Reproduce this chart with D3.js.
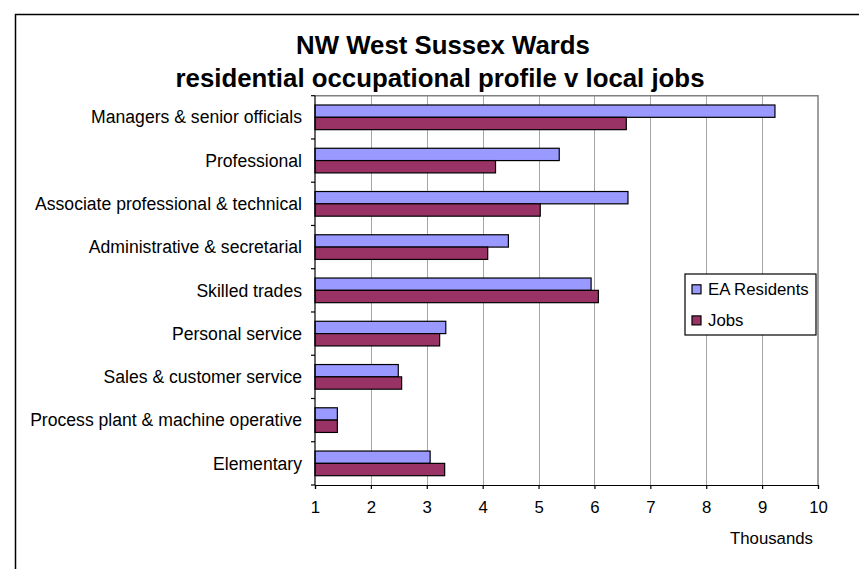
<!DOCTYPE html>
<html>
<head>
<meta charset="utf-8">
<script src="https://cdn.jsdelivr.net/npm/d3@7"></script>
<style>
  html, body { margin: 0; padding: 0; background: #fff; }
  svg { display: block; font-family: Arial, "Liberation Sans", sans-serif; }
</style>
</head>
<body>
<svg id="chart" width="859" height="569"></svg>
<script>
const titleLines = ["NW West Sussex Wards", "residential occupational profile v local jobs"];
const categories = [
  "Managers & senior officials",
  "Professional",
  "Associate professional & technical",
  "Administrative & secretarial",
  "Skilled trades",
  "Personal service",
  "Sales & customer service",
  "Process plant & machine operative",
  "Elementary"
];
const seriesNames = ["EA Residents", "Jobs"];
const eaResidents = [9.23, 5.37, 6.60, 4.46, 5.94, 3.34, 2.49, 1.40, 3.06];
const jobs        = [6.57, 4.23, 5.03, 4.09, 6.07, 3.23, 2.55, 1.40, 3.32];
const xTicks = [1, 2, 3, 4, 5, 6, 7, 8, 9, 10];
const xUnitLabel = "Thousands";
const colors = ["#9999FF", "#993366"];

const svg = d3.select("#chart");
svg.append("rect").attr("width", 859).attr("height", 569).attr("fill", "#fff");

// outer chart frame (extends beyond the picture on right and bottom)
svg.append("path")
  .attr("d", "M15.5,620 L15.5,14.5 L900,14.5")
  .attr("fill", "none").attr("stroke", "#000").attr("stroke-width", 1.5);

const plot = { left: 315, right: 818, top: 95.7, bottom: 485 };

const x = d3.scaleLinear().domain([1, 10]).range([plot.left, plot.right]);
const y = d3.scaleBand().domain(categories).range([plot.top, plot.bottom])
  .paddingInner(0.43).paddingOuter(0.215);
const ySub = d3.scaleBand().domain(seriesNames).range([0, y.bandwidth()]);

// gridlines
svg.append("g").selectAll("line")
  .data(xTicks.filter(t => t > 1 && t < 10))
  .join("line")
  .attr("x1", d => Math.round(x(d)) + 0.5).attr("x2", d => Math.round(x(d)) + 0.5)
  .attr("y1", plot.top).attr("y2", plot.bottom)
  .attr("stroke", "#a6a6a6").attr("stroke-width", 1);

// plot area border (top & right)
svg.append("path")
  .attr("d", `M${plot.left},${plot.top} L${plot.right},${plot.top} L${plot.right},${plot.bottom}`)
  .attr("fill", "none").attr("stroke", "#808080").attr("stroke-width", 1.5);

// bars
const data = categories.map((c, i) => ({ cat: c, values: [eaResidents[i], jobs[i]] }));
const groups = svg.append("g").selectAll("g")
  .data(data).join("g")
  .attr("transform", d => `translate(0,${y(d.cat)})`);
groups.selectAll("rect")
  .data(d => d.values.map((v, j) => ({ name: seriesNames[j], v, j })))
  .join("rect")
  .attr("x", x(1))
  .attr("y", d => ySub(d.name))
  .attr("width", d => x(d.v) - x(1))
  .attr("height", ySub.bandwidth())
  .attr("fill", d => colors[d.j])
  .attr("stroke", "#000").attr("stroke-width", 1.2);

// y axis
const yAxisG = svg.append("g");
yAxisG.append("line")
  .attr("x1", plot.left).attr("x2", plot.left)
  .attr("y1", plot.top).attr("y2", plot.bottom)
  .attr("stroke", "#000").attr("stroke-width", 1.2);
const boundaries = categories.map(c => y(c) - y.step() * y.paddingInner() / 2).concat([plot.bottom]);
boundaries[0] = plot.top;
yAxisG.selectAll("line.tk").data(boundaries).join("line").attr("class", "tk")
  .attr("x1", plot.left - 4).attr("x2", plot.left)
  .attr("y1", d => d).attr("y2", d => d)
  .attr("stroke", "#000").attr("stroke-width", 1.2);
yAxisG.selectAll("text").data(categories).join("text")
  .attr("x", 302).attr("y", d => y(d) + y.bandwidth() / 2)
  .attr("dy", "0.35em")
  .attr("text-anchor", "end")
  .attr("font-size", "17.6px").attr("fill", "#000")
  .text(d => d);

// x axis
const xAxis = d3.axisBottom(x).tickValues(xTicks).tickSize(4).tickPadding(12)
  .tickFormat(d3.format("d"));
const xAxisG = svg.append("g").attr("transform", `translate(0,${plot.bottom})`).call(xAxis);
xAxisG.select(".domain").attr("stroke", "#000").attr("stroke-width", 1.2);
xAxisG.selectAll(".tick line").attr("stroke", "#000").attr("stroke-width", 1.2);
xAxisG.selectAll(".tick text")
  .attr("font-size", "16.8px").attr("font-family", "Arial, 'Liberation Sans', sans-serif")
  .attr("fill", "#000");

svg.append("text")
  .attr("x", 813).attr("y", 544)
  .attr("text-anchor", "end")
  .attr("font-size", "16.8px").attr("fill", "#000")
  .text(xUnitLabel);

// title
const titleCenters = [443, 440];
svg.append("g").selectAll("text").data(titleLines).join("text")
  .attr("x", (d, i) => titleCenters[i]).attr("y", (d, i) => 53.5 + i * 33)
  .attr("text-anchor", "middle")
  .attr("font-size", "25.8px").attr("font-weight", "bold").attr("fill", "#000")
  .text(d => d);

// legend
const lg = svg.append("g").attr("transform", "translate(685,274)");
lg.append("rect").attr("width", 131).attr("height", 61)
  .attr("fill", "#fff").attr("stroke", "#000").attr("stroke-width", 1.2);
const items = lg.selectAll("g").data(seriesNames).join("g")
  .attr("transform", (d, i) => `translate(0,${15.3 + i * 31.1})`);
items.append("rect").attr("x", 7).attr("y", -4.5).attr("width", 9).attr("height", 9)
  .attr("fill", (d, i) => colors[i]).attr("stroke", "#000").attr("stroke-width", 1.2);
items.append("text").attr("x", 23).attr("y", 0).attr("dy", "0.35em")
  .attr("font-size", "16.8px").attr("fill", "#000")
  .text(d => d);
</script>
</body>
</html>
